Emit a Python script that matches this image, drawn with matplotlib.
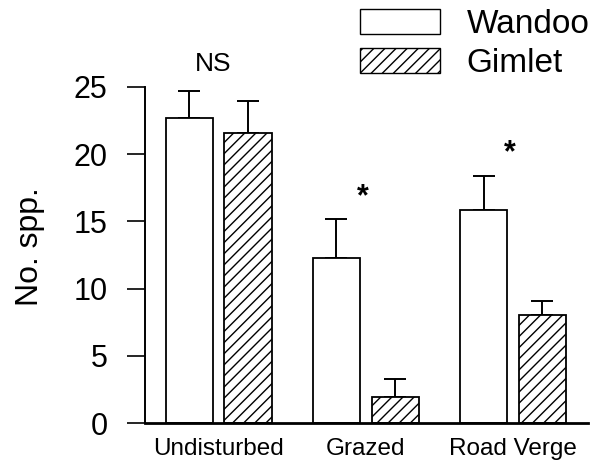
import matplotlib.pyplot as plt
import numpy as np
from matplotlib.patches import Patch

plt.rcParams["font.family"] = ["Liberation Sans", "DejaVu Sans"]
plt.rcParams["hatch.linewidth"] = 1.0

# Species counts (means and upper standard errors)
categories = ["Undisturbed", "Grazed", "Road Verge"]
series_names = ["Wandoo", "Gimlet"]
wandoo_means = [22.7, 12.25, 15.85]
wandoo_err = [2.0, 2.95, 2.55]
gimlet_means = [21.6, 1.95, 8.05]
gimlet_err = [2.35, 1.3, 1.0]
significance = ["NS", "*", "*"]
sig_heights = [26.7, 16.8, 20.1]

y_ticks = [0, 5, 10, 15, 20, 25]

fig = plt.figure(figsize=(5.96, 4.61), dpi=100)
ax = fig.add_axes([0.2433, 0.0824, 0.7433, 0.7289])

x = np.arange(len(categories))
offset = 0.2
width = 0.32

bar_style = dict(width=width, edgecolor="black", linewidth=1.3, zorder=2)
err_style = dict(ecolor="black", elinewidth=1.4, capsize=8, capthick=1.4)

ax.bar(x - offset, wandoo_means, color="white", label=series_names[0], **bar_style)
ax.bar(x + offset, gimlet_means, color="white", hatch="///",
       label=series_names[1], **bar_style)
ax.errorbar(x - offset, wandoo_means, yerr=[np.zeros(3), wandoo_err],
            fmt="none", zorder=1, **err_style)
ax.errorbar(x + offset, gimlet_means, yerr=[np.zeros(3), gimlet_err],
            fmt="none", zorder=1, **err_style)

for xi, mark, h in zip(x, significance, sig_heights):
    if mark == "*":
        ax.text(xi - 0.02, h, mark, ha="center", va="center", fontsize=22,
                fontweight="bold", clip_on=False)
    else:
        ax.text(xi - 0.04, h, mark, ha="center", va="center", fontsize=19,
                clip_on=False)

ax.set_xlim(-0.5, 2.51)
ax.set_ylim(0, 25)
ax.set_yticks(y_ticks)
ax.set_xticks(x)
ax.set_xticklabels(categories, fontsize=17.5)
ax.tick_params(axis="y", direction="out", length=13, width=1.2, pad=14,
               labelsize=22)
ax.tick_params(axis="x", length=0, pad=10.5)

ax.spines["top"].set_visible(False)
ax.spines["right"].set_visible(False)
ax.spines["left"].set_linewidth(1.4)
ax.spines["bottom"].set_linewidth(2.0)

ax.set_ylabel("No. spp.", fontsize=23)
ax.yaxis.set_label_coords(-0.226, 0.524)

handles = [
    Patch(facecolor="white", edgecolor="black", linewidth=1.0),
    Patch(facecolor="white", edgecolor="black", linewidth=1.0, hatch="///"),
]
fig.legend(handles, series_names, loc="upper left",
           bbox_to_anchor=(360 / 596, 1 - 9 / 461), frameon=False,
           fontsize=24, handlelength=2.4, handleheight=0.8,
           handletextpad=0.8, labelspacing=0.22, borderpad=0,
           borderaxespad=0)

fig.savefig("out.png", dpi=100)
